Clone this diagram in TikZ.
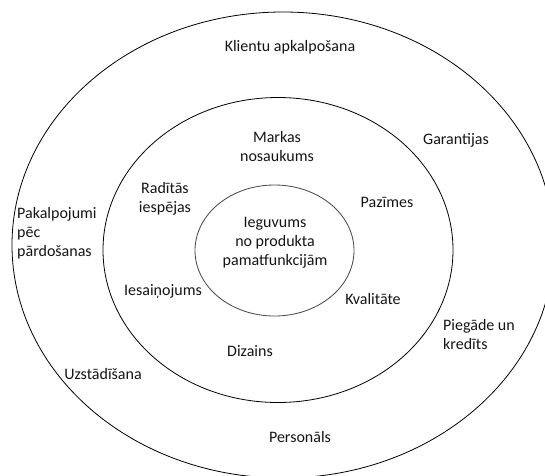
\documentclass[tikz,border=0pt]{standalone}
\usepackage{fontspec}
\setmainfont{Carlito}
\begin{document}
\begin{tikzpicture}[x=1pt,y=-1pt,
  lbl/.style={inner sep=0pt, font=\fontsize{16}{19}\selectfont, text=black!92, align=center},
  lbll/.style={lbl, align=left, anchor=west},
  ring/.style={draw=black, line width=0.8pt},
  inring/.style={draw=black!70, line width=0.85pt}]
\useasboundingbox (0,0) rectangle (545,475);
\begin{scope}
\clip (0,0) rectangle (545,475);
\draw[ring] (283,245) ellipse [x radius=271, y radius=233];
\end{scope}
\draw[ring] (278,250) ellipse [x radius=175, y radius=152.5];
\draw[inring] (274.5,250.5) ellipse [x radius=79.5, y radius=65.5];

\node[lbl] (klientu) at (290,47) {Klientu apkalpošana};
\node[lbl] (garant) at (456,140) {Garantijas};
\node[lbl] (markas) at (277,146) {Markas\\nosaukums};
\node[lbl] (raditas) at (165,199) {Radītās\\iespējas};
\node[lbl] (pazimes) at (387,202) {Pazīmes};
\node[lbll] (pakalp) at (17,233) {Pakalpojumi\\pēc\\pārdošanas};
\node[lbl] (ieguv) at (275,243) {Ieguvums\\no produkta\\pamatfunkcijām};
\node[lbl] (iesain) at (163,291) {Iesaiņojums};
\node[lbl] (kval) at (373,299) {Kvalitāte};
\node[lbll] (piegade) at (443,334) {Piegāde un\\kredīts};
\node[lbl] (dizains) at (250,351) {Dizains};
\node[lbl] (uzstad) at (103,374) {Uzstādīšana};
\node[lbl] (personals) at (300,437) {Personāls};
\end{tikzpicture}
\end{document}
